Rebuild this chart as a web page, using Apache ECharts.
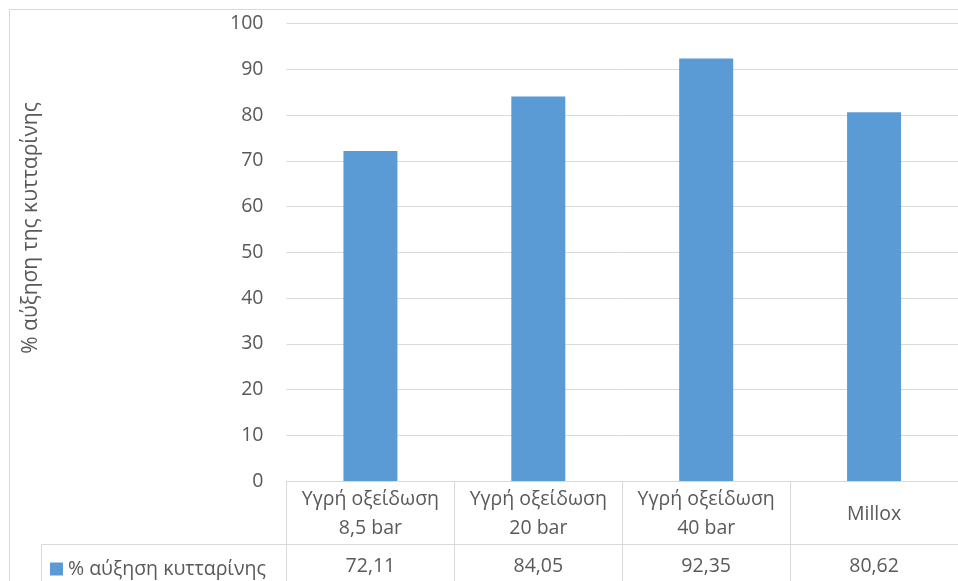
<!DOCTYPE html>
<html>
<head>
<meta charset="utf-8">
<script src="https://cdn.jsdelivr.net/npm/echarts@6/dist/echarts.min.js"></script>
<style>
  html, body { margin: 0; padding: 0; background: #fff; }
  #chart { width: 958px; height: 581px; }
</style>
</head>
<body>
<div id="chart"></div>
<script>
// Cellulose increase per treatment
const categories = ['Υγρή οξείδωση\n8,5 bar', 'Υγρή οξείδωση\n20 bar', 'Υγρή οξείδωση\n40 bar', 'Millox'];
const values = [72.11, 84.05, 92.35, 80.62];
const seriesName = '% αύξηση κυτταρίνης';
const yTitle = '% αύξηση της κυτταρίνης';
const yTicks = [0, 10, 20, 30, 40, 50, 60, 70, 80, 90, 100];

const FONT = 'Open Sans';
const TEXT = '#595959';
const LINE = '#d9d9d9';
const FS = 19.5;

// Values row of the data table, written with a decimal comma
const valueLabels = values.map(v => v.toFixed(2).replace('.', ','));

const chart = echarts.init(document.getElementById('chart'));
chart.setOption({
  animation: false,
  backgroundColor: '#fff',
  textStyle: { fontFamily: FONT },
  grid: { left: 286.5, right: -12.5, top: 23.5, bottom: 100, containLabel: false },
  legend: {
    left: 45, top: 554, padding: 5,
    icon: 'rect', itemWidth: 13, itemHeight: 13,
    textStyle: { fontFamily: FONT, fontSize: FS, color: TEXT },
    data: [seriesName]
  },
  xAxis: [
    {
      type: 'category',
      data: categories,
      position: 'bottom',
      axisLine: { show: true, lineStyle: { color: LINE, width: 1 } },
      axisTick: { show: true, length: 100, inside: false, lineStyle: { color: LINE, width: 1 } },
      axisLabel: {
        fontFamily: FONT, fontSize: FS, color: TEXT, lineHeight: 29, margin: 4, interval: 0,
        // single-line names sit in the middle of their two-line cell
        formatter: v => (v.indexOf('\n') >= 0 ? v : '{one|' + v + '}'),
        rich: { one: { fontFamily: FONT, fontSize: FS, color: TEXT, lineHeight: 58 } }
      }
    },
    {
      type: 'category',
      data: valueLabels,
      position: 'bottom',
      offset: 63,
      axisLine: { show: true, lineStyle: { color: LINE, width: 1 } },
      axisTick: { show: false },
      axisLabel: { fontFamily: FONT, fontSize: FS, color: TEXT, margin: 12, interval: 0 }
    }
  ],
  yAxis: {
    type: 'value',
    min: yTicks[0], max: yTicks[yTicks.length - 1], interval: 10,
    axisLine: { show: false },
    axisTick: { show: false },
    axisLabel: { fontFamily: FONT, fontSize: FS, color: TEXT, margin: 23 },
    splitLine: { lineStyle: { color: LINE, width: 1 } }
  },
  series: [{
    name: seriesName,
    type: 'bar',
    xAxisIndex: 0,
    data: values,
    barWidth: 54,
    itemStyle: { color: '#5b9bd5' }
  }],
  graphic: [
    // chart frame
    { type: 'rect', silent: true, shape: { x: 9.5, y: 9.5, width: 1000, height: 700 },
      style: { fill: null, stroke: LINE, lineWidth: 1 } },
    // legend cell of the data table
    { type: 'line', silent: true, shape: { x1: 41.5, y1: 544.5, x2: 286.5, y2: 544.5 },
      style: { stroke: LINE, lineWidth: 1 } },
    { type: 'line', silent: true, shape: { x1: 41.5, y1: 544.5, x2: 41.5, y2: 600 },
      style: { stroke: LINE, lineWidth: 1 } },
    // vertical axis title
    { type: 'text', silent: true, x: 31, y: 228, rotation: Math.PI / 2,
      style: { text: yTitle, fontFamily: FONT, fontSize: 21, fill: TEXT, align: 'center', verticalAlign: 'middle' } }
  ]
});
</script>
</body>
</html>
